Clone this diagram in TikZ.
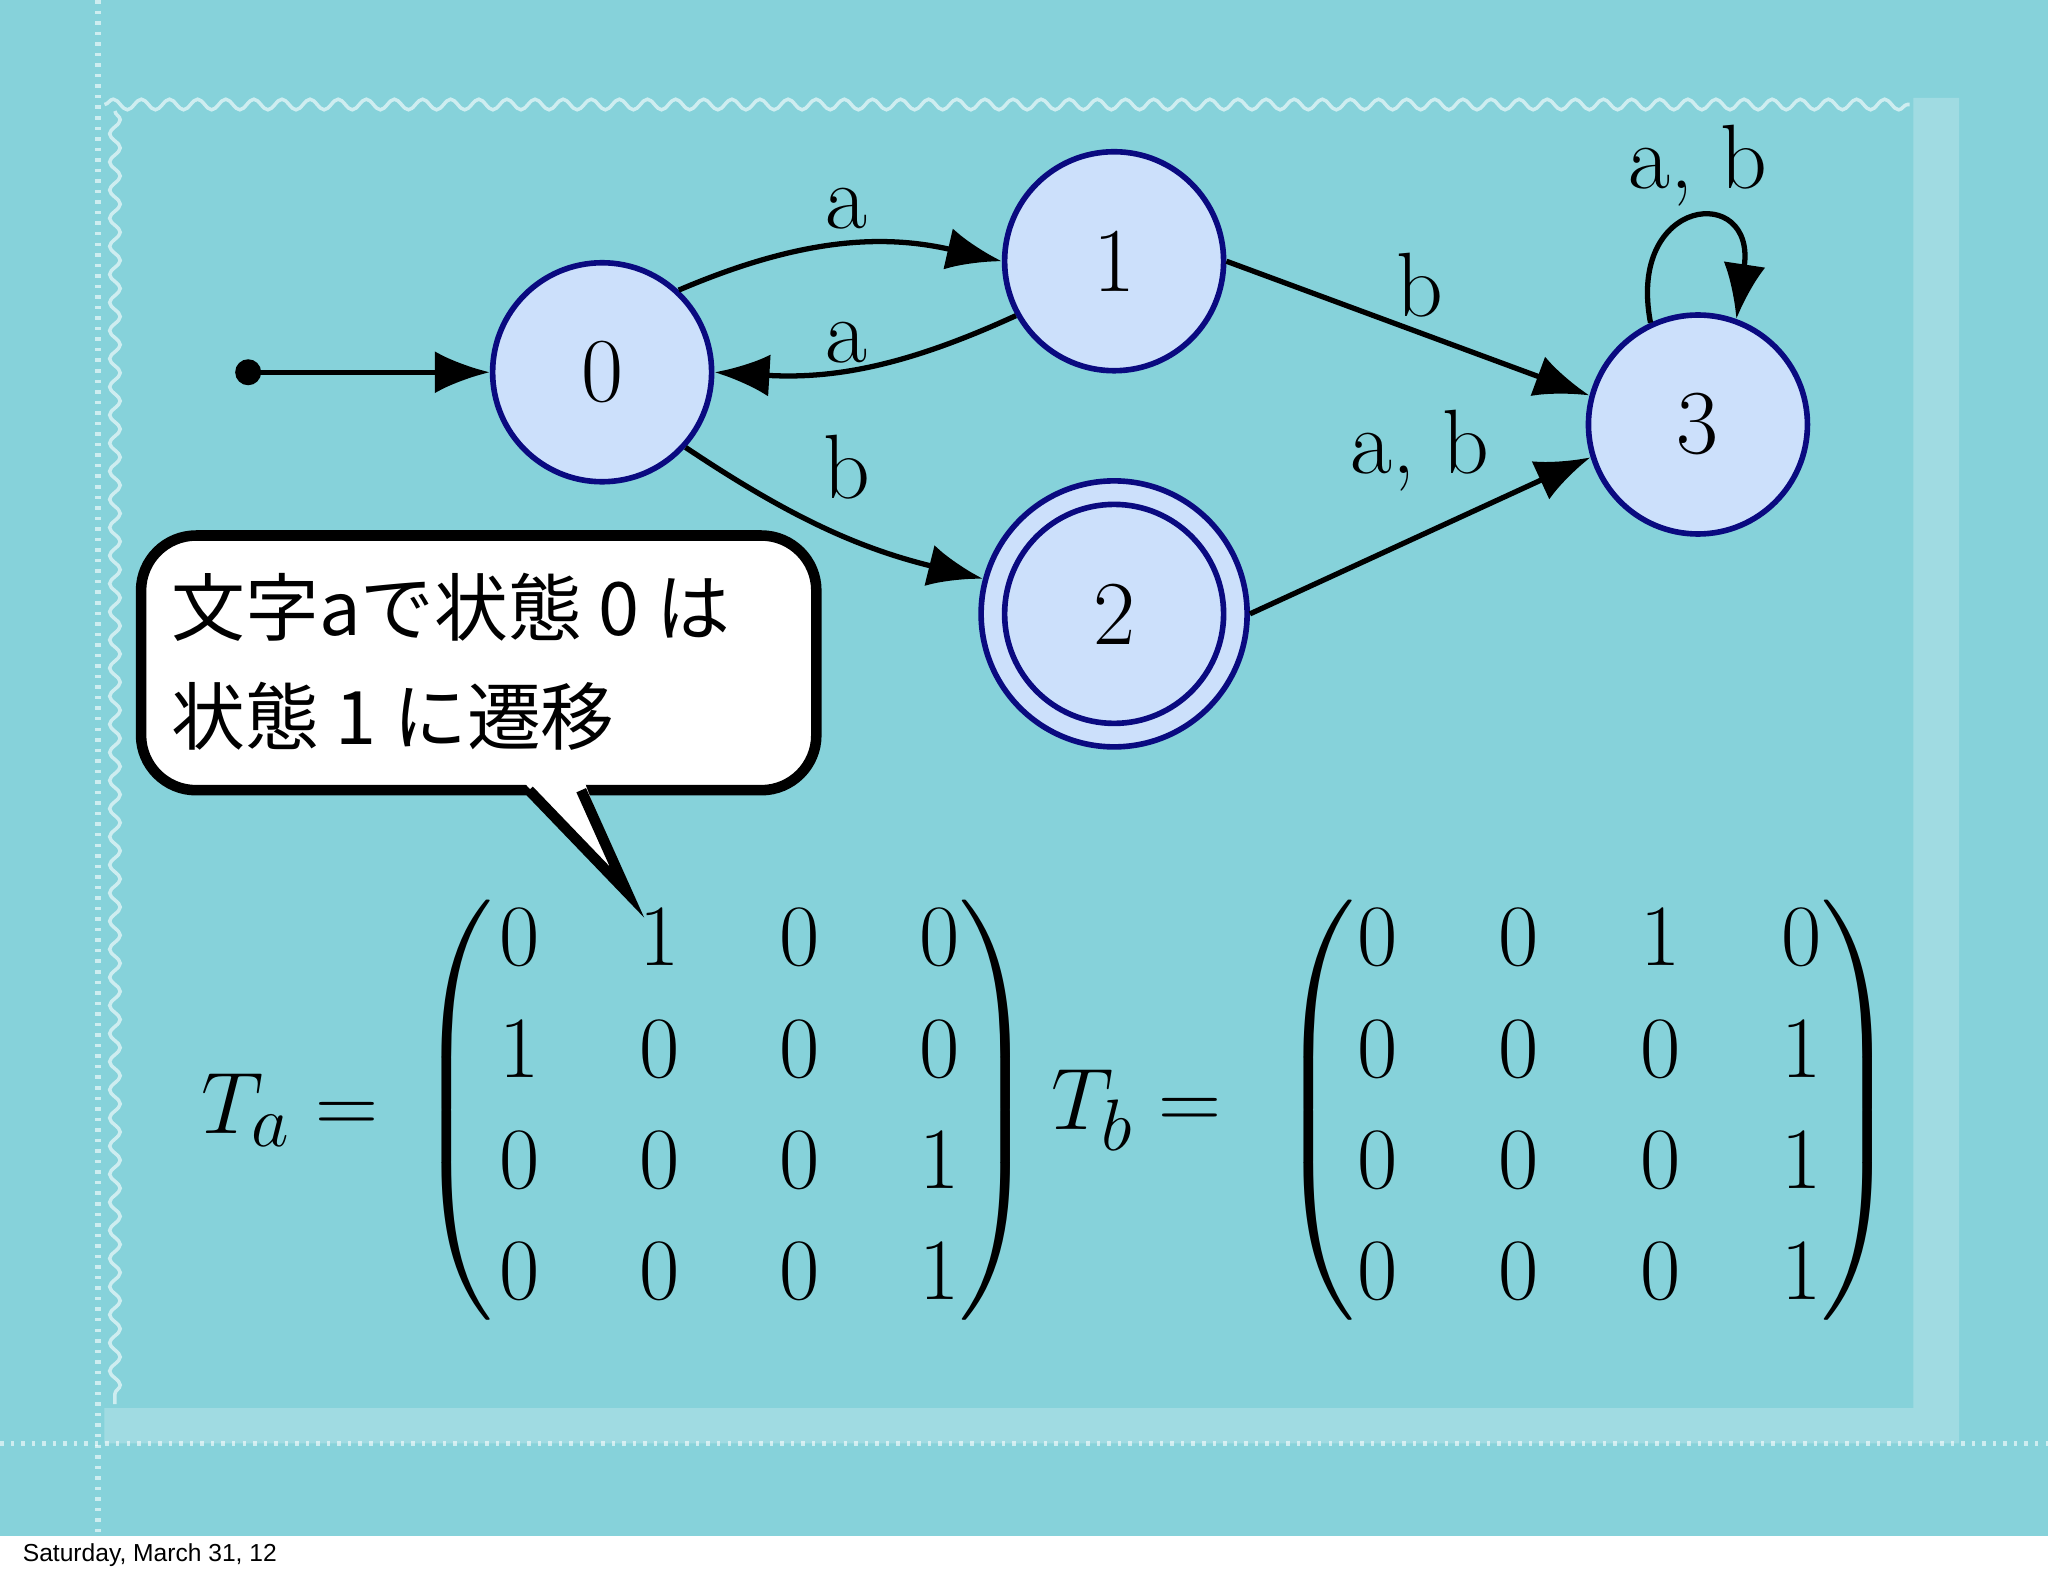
\documentclass[tikz,border=0pt]{standalone}
\usepackage{fontspec}
\usepackage{amsmath}
\setsansfont{Liberation Sans}
\newfontfamily\cjk{Noto Sans CJK JP}
\usetikzlibrary{arrows.meta,decorations.pathmorphing}
\definecolor{bg}{HTML}{86D2DA}
\definecolor{nfill}{HTML}{CCE0FB}
\definecolor{nline}{HTML}{0A0A80}
\tikzset{
 st/.style={circle,draw=nline,line width=1.6pt,fill=nfill,minimum size=2.19cm,inner sep=0pt,font=\fontsize{26}{30}\selectfont},
 tr/.style={line width=1.5pt,-{Latex[length=0.55cm,width=0.42cm]}},
 lab/.style={font=\fontsize{26}{30}\selectfont},
 ent/.style={font=\fontsize{31}{36}\selectfont,inner sep=0pt},
 fr/.style={white,opacity=0.6,line width=1pt}
}
\begin{document}
\begin{tikzpicture}[x=0.013061cm,y=-0.013061cm]
\useasboundingbox (0,0) rectangle (1568,1207);
\fill[bg] (0,0) rectangle (1568,1176);
\fill[white] (0,1176) rectangle (1568,1207);
\node[anchor=west,font=\sffamily\fontsize{7}{9}\selectfont] (date) at (8,1191) {Saturday, March 31, 12};
% frame
\draw[fr,dotted,line width=1.5pt] (75,0) -- (75,1176);
\draw[fr,dotted,line width=1.5pt] (0,1105) -- (1568,1105);
\draw[fr,decorate,decoration={snake,amplitude=1.5pt,segment length=8pt}] (80,80) -- (1462,80);
\draw[fr,decorate,decoration={snake,amplitude=1.5pt,segment length=8pt}] (88,85) -- (88,1075);
\fill[white,opacity=0.22] (1465,75) -- (1500,75) -- (1500,1105) -- (80,1105) -- (80,1078) -- (1465,1078) -- cycle;
% states
\node[st] (s0) at (461,285) {0};
\node[st] (s1) at (853,200) {1};
\node[circle,draw=nline,line width=1.6pt,fill=nfill,minimum size=2.66cm] (s2o) at (853,470) {};
\node[st] (s2) at (853,470) {2};
\node[st] (s3) at (1300,325) {3};
\fill (190,285) circle (0.13cm);
\coordinate (start) at (190,285);
\draw[tr] (start) -- (s0);
\draw[tr] (s0.47) to[bend left=18] (s1.west);
\draw[tr] (s1.209) to[bend left=14] (s0.east);
\draw[tr] (s0.318) to[bend right=10] (s2o.165);
\draw[tr] (s1.east) -- (s3.165);
\draw[tr] (s2o.east) -- (s3.197);
\draw[tr] (s3.115) .. controls (1245,150) and (1345,140) .. (s3.70);
\node[lab] (la1) at (648,160) {a};
\node[lab] (la2) at (648,262) {a};
\node[lab] (lb1) at (648,358) {b};
\node[lab] (lb2) at (1087,218) {b};
\node[lab] (lab3) at (1087,345) {a, b};
\node[lab] (lab4) at (1300,127) {a, b};
% callout
\draw[line width=3pt,fill=white,rounded corners=0.55cm] (108,410) rectangle (625,605);
\fill[white] (402,600) -- (480,683) -- (448,600) -- cycle;
\draw[line width=3pt,line join=miter] (405,605) -- (480,683) -- (445,605);
\node[anchor=west,align=left,font=\cjk\fontsize{21}{31}\selectfont] (txt) at (122,507) {文字aで状態 0 は\\状態 1 に遷移};
% matrices
\node[ent] (ta) at (222,850) {$T_a=$};
\node[ent] (tb) at (870,850) {$T_b=$};
\node[ent] (pa1) at (350,850) {$\left(\vcenter{\hbox{\rule{0pt}{4.2cm}}}\right.$};
\node[ent] (pa2) at (762,850) {$\left.\vcenter{\hbox{\rule{0pt}{4.2cm}}}\right)$};
\node[ent] (pb1) at (1010,850) {$\left(\vcenter{\hbox{\rule{0pt}{4.2cm}}}\right.$};
\node[ent] (pb2) at (1422,850) {$\left.\vcenter{\hbox{\rule{0pt}{4.2cm}}}\right)$};
\foreach \r [count=\i] in {{0,1,0,0},{1,0,0,0},{0,0,0,1},{0,0,0,1}}{
 \foreach \v [count=\j] in \r { \node[ent] (a\i\j) at ({398+107*(\j-1)},{718+85*(\i-1)}) {$\v$}; } }
\foreach \r [count=\i] in {{0,0,1,0},{0,0,0,1},{0,0,0,1},{0,0,0,1}}{
 \foreach \v [count=\j] in \r { \node[ent] (b\i\j) at ({1055+108*(\j-1)},{718+85*(\i-1)}) {$\v$}; } }
\end{tikzpicture}
\end{document}
